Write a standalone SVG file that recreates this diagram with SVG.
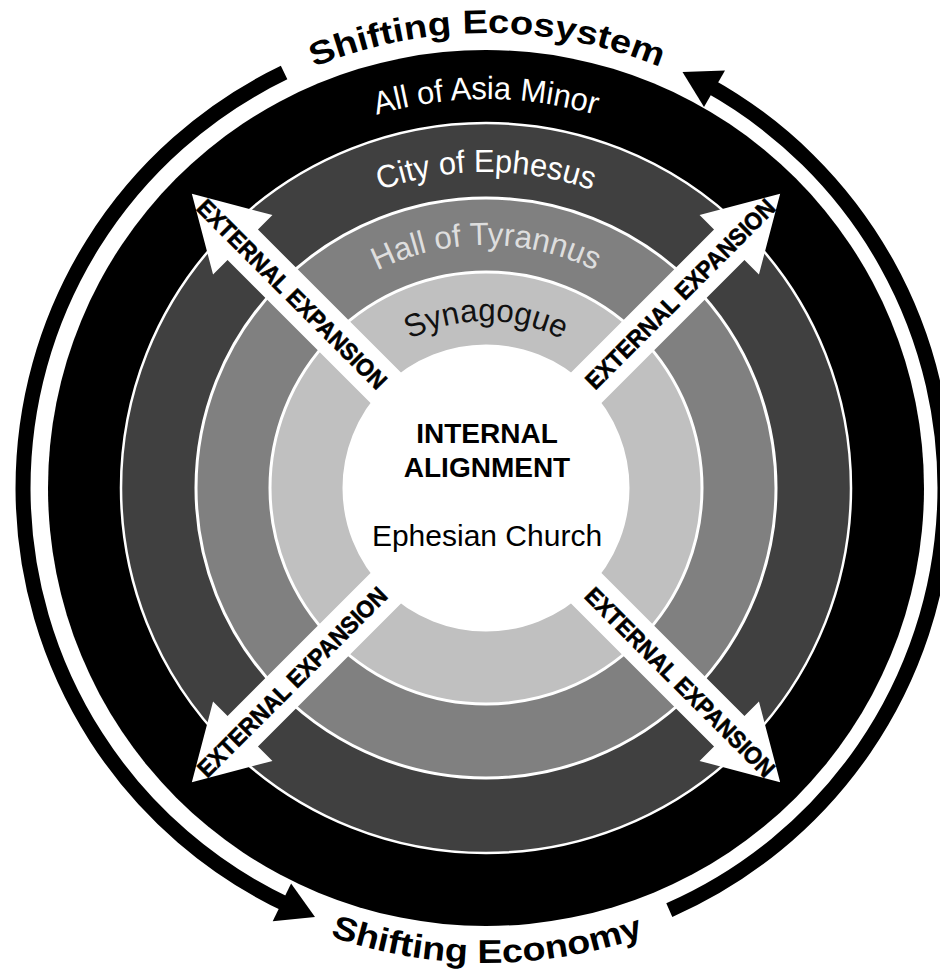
<svg xmlns="http://www.w3.org/2000/svg" width="940" height="970" viewBox="0 0 940 970">
<style>
text{font-family:"Liberation Sans",Arial,Helvetica,sans-serif}
.ring{font-size:32px;text-anchor:middle}
.bold{font-weight:bold}
.shift{font-size:33px;font-weight:bold;fill:#000;text-anchor:middle}
.ext{font-size:24px;font-weight:bold;fill:#000;stroke:#000;stroke-width:0.6;text-anchor:middle}
.sep{stroke:#fff;stroke-width:3}
.outer{fill:none;stroke:#000;stroke-width:15}
.xarrow{fill:#fff}
</style>
<defs>
<path id="pAsia" d="M97 488 A389 389 0 0 1 875 488"/>
<path id="pCity" d="M170 488 A316 316 0 0 1 802 488"/>
<path id="pHall" d="M243 488 A243 243 0 0 1 729 488"/>
<path id="pSyn" d="M319 488 A167 167 0 0 1 653 488"/>
<path id="pEco" d="M32 488 A455 455 0 0 1 942 488"/>
<path id="pEcon" d="M12 488 A475 475 0 0 0 962 488"/>
</defs>
<rect width="940" height="970" fill="#fff"/>
<g id="ring-asia">
<circle cx="486" cy="488" r="438" fill="#000"/>
<text class="ring" fill="#fff"><textPath href="#pAsia" startOffset="50%" textLength="222" lengthAdjust="spacingAndGlyphs">All of Asia Minor</textPath></text>
</g>
<g id="ring-ephesus">
<circle cx="486" cy="488" r="365" fill="#404040" stroke="#fff" stroke-width="2.5"/>
<text class="ring" fill="#fff"><textPath href="#pCity" startOffset="50%" textLength="216" lengthAdjust="spacingAndGlyphs">City of Ephesus</textPath></text>
</g>
<g id="ring-tyrannus">
<circle cx="486" cy="488" r="290" fill="#808080" class="sep"/>
<text class="ring" fill="#dedede"><textPath href="#pHall" startOffset="50%" textLength="226" lengthAdjust="spacingAndGlyphs">Hall of Tyrannus</textPath></text>
</g>
<g id="ring-synagogue">
<circle cx="486" cy="488" r="216" fill="#c0c0c0" class="sep"/>
<text class="ring" fill="#111"><textPath href="#pSyn" startOffset="50%" textLength="158" lengthAdjust="spacingAndGlyphs">Synagogue</textPath></text>
</g>
<g id="center-church">
<circle cx="486" cy="488" r="142" fill="#fff" class="sep"/>
</g>
<g id="connectors">
<g id="cycle-arrows">
<path class="outer" d="M669.3 910.1 A461 461 0 0 0 707.5 84.8"/>
<polygon points="704,106.9 725,70.6 682.5,71.9" fill="#000"/>
<path class="outer" d="M284.1 72.6 A461 461 0 0 0 289.2 905.8"/>
<polygon points="291.1,883.5 272.7,921.2 315,916.9" fill="#000"/>
</g>
<g id="expansion-arrows">
<polygon class="xarrow" transform="translate(486 488) rotate(-135)" points="100,-21.5 344,-21.5 344,-42 416,0 344,42 344,21.5 100,21.5"/>
<polygon class="xarrow" transform="translate(486 488) rotate(-45)" points="100,-21.5 344,-21.5 344,-42 416,0 344,42 344,21.5 100,21.5"/>
<polygon class="xarrow" transform="translate(486 488) rotate(45)" points="100,-21.5 344,-21.5 344,-42 416,0 344,42 344,21.5 100,21.5"/>
<polygon class="xarrow" transform="translate(486 488) rotate(135)" points="100,-21.5 344,-21.5 344,-42 416,0 344,42 344,21.5 100,21.5"/>
<text class="ext" transform="translate(292 294) rotate(45)" dy="8.5" textLength="257" lengthAdjust="spacingAndGlyphs">EXTERNAL EXPANSION</text>
<text class="ext" transform="translate(680 294) rotate(-45)" dy="8.5" textLength="257" lengthAdjust="spacingAndGlyphs">EXTERNAL EXPANSION</text>
<text class="ext" transform="translate(292 682) rotate(-45)" dy="8.5" textLength="257" lengthAdjust="spacingAndGlyphs">EXTERNAL EXPANSION</text>
<text class="ext" transform="translate(680 682) rotate(45)" dy="8.5" textLength="257" lengthAdjust="spacingAndGlyphs">EXTERNAL EXPANSION</text>
</g>
</g>
<g id="cycle-labels">
<text class="shift"><textPath href="#pEco" startOffset="50%" textLength="355" lengthAdjust="spacingAndGlyphs">Shifting Ecosystem</textPath></text>
<text class="shift"><textPath href="#pEcon" startOffset="50%" textLength="320" lengthAdjust="spacingAndGlyphs">Shifting Economy</textPath></text>
</g>
<g id="center-label">
<text class="bold" x="487" y="443" font-size="28" text-anchor="middle">INTERNAL</text>
<text class="bold" x="487" y="477" font-size="28" text-anchor="middle">ALIGNMENT</text>
<text x="487" y="546" font-size="30" text-anchor="middle">Ephesian Church</text>
</g>
</svg>
